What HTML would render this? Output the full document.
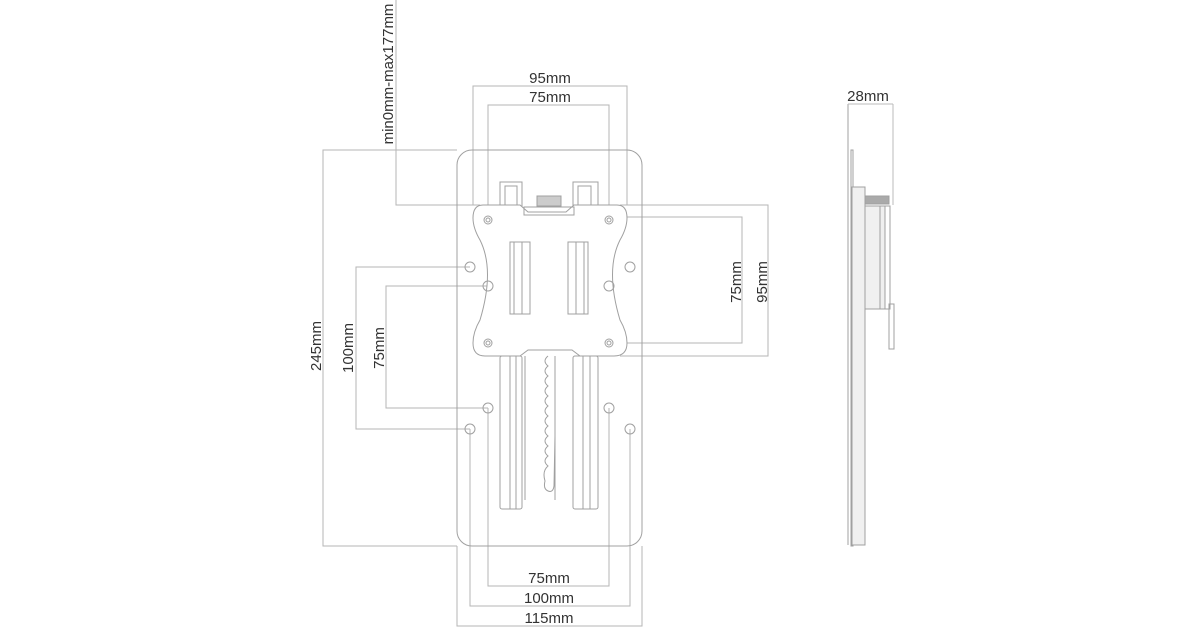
<!DOCTYPE html>
<html><head><meta charset="utf-8"><style>
html,body{margin:0;padding:0;background:#fff;}
svg{display:block;}
text{font-family:"Liberation Sans","DejaVu Sans",sans-serif;font-size:15px;fill:#333;}
</style></head><body>
<svg width="1200" height="630" viewBox="0 0 1200 630" xmlns="http://www.w3.org/2000/svg">
<g fill="none" stroke="#b5b5b5" stroke-width="1">
<polyline points="473,205 473,86 627,86 627,205"/>
<polyline points="488,217 488,105 609,105 609,217"/>
<polyline points="457,150 323,150 323,546 457,546"/>
<polyline points="396,0 396,205 480,205"/>
<polyline points="470,267 356,267 356,429 470,429"/>
<polyline points="488,286 386,286 386,408 488,408"/>
<polyline points="620,205 768,205 768,356 620,356"/>
<polyline points="609,217 742,217 742,343 609,343"/>
<polyline points="488,408 488,586 609,586 609,408"/>
<polyline points="470,429 470,606 630,606 630,429"/>
<polyline points="457,546 457,626 642,626 642,546"/>
</g>
<g fill="none" stroke="#a0a0a0" stroke-width="1">
<rect x="457" y="150" width="185" height="396" rx="15"/>
<rect x="500" y="182" width="22" height="24"/>
<rect x="505" y="186" width="12" height="20"/>
<rect x="573" y="182" width="25" height="24"/>
<rect x="578" y="186" width="13" height="20"/>
<rect x="500" y="356" width="22" height="153" rx="2"/>
<line x1="510" y1="356" x2="510" y2="509"/><line x1="516" y1="356" x2="516" y2="509"/>
<rect x="573" y="356" width="25" height="153" rx="2"/>
<line x1="583" y1="356" x2="583" y2="509"/><line x1="590" y1="356" x2="590" y2="509"/>
<line x1="525" y1="356" x2="525" y2="500"/><line x1="555" y1="356" x2="555" y2="500"/>
<path d="M548,356 q-6,5 0,10 q-6,5 0,10 q-6,5 0,10 q-6,5 0,10 q-6,5 0,10 q-6,5 0,10 q-6,5 0,10 q-6,5 0,10 q-6,5 0,10 q-6,5 0,10 q-6,5 0,10 q-6,5 -3,15 q-2,8 3,10 q5,2 6,-5 l1,-50"/>
<path fill="#fff" d="M483,205 L520,205 L528,212 L566,212 L574,205 L617,205 Q627,205 627,218 Q627,228 620,240 Q605,270 620,320 Q627,332 627,343 Q627,356 614,356 L580,356 L572,350 L528,350 L520,356 L485,356 Q473,356 473,343 Q473,332 480,320 Q495,270 480,240 Q473,228 473,218 Q473,205 483,205 Z"/>
<rect x="524" y="207" width="50" height="8"/>
<rect x="537" y="196" width="24" height="10" fill="#ccc"/>
<rect x="510" y="242" width="20" height="72"/>
<rect x="514" y="242" width="8" height="72"/>
<rect x="568" y="242" width="20" height="72"/>
<rect x="576" y="242" width="8" height="72"/>
<circle cx="488" cy="220" r="4"/><circle cx="488" cy="220" r="2"/>
<circle cx="609" cy="220" r="4"/><circle cx="609" cy="220" r="2"/>
<circle cx="488" cy="343" r="4"/><circle cx="488" cy="343" r="2"/>
<circle cx="609" cy="343" r="4"/><circle cx="609" cy="343" r="2"/>
<circle cx="470" cy="267" r="5"/><circle cx="630" cy="267" r="5"/>
<circle cx="488" cy="286" r="5"/><circle cx="609" cy="286" r="5"/>
<circle cx="488" cy="408" r="5"/><circle cx="609" cy="408" r="5"/>
<circle cx="470" cy="429" r="5"/><circle cx="630" cy="429" r="5"/>
<polyline points="848,104 848,545"/>
<line x1="848" y1="104" x2="893" y2="104" stroke="#bbb"/>
<line x1="893" y1="104" x2="893" y2="205" stroke="#bbb"/>
<rect x="851" y="150" width="2" height="396"/>
<rect x="852" y="187" width="13" height="358" fill="#f0f0f0"/>
<rect x="865" y="196" width="24" height="8" fill="#aaa"/>
<rect x="865" y="206" width="20" height="103" fill="#f0f0f0"/>
<rect x="880" y="206" width="10" height="103"/>
<rect x="889" y="304" width="5" height="45"/>
</g>
<text x="550" y="83" text-anchor="middle">95mm</text>
<text x="550" y="102" text-anchor="middle">75mm</text>
<text x="549" y="583" text-anchor="middle">75mm</text>
<text x="549" y="603" text-anchor="middle">100mm</text>
<text x="549" y="623" text-anchor="middle">115mm</text>
<text x="868" y="101" text-anchor="middle">28mm</text>
<text transform="translate(321,346) rotate(-90)" text-anchor="middle">245mm</text>
<text transform="translate(353,348) rotate(-90)" text-anchor="middle">100mm</text>
<text transform="translate(384,348) rotate(-90)" text-anchor="middle">75mm</text>
<text transform="translate(393,74) rotate(-90)" text-anchor="middle">min0mm-max177mm</text>
<text transform="translate(741,282) rotate(-90)" text-anchor="middle">75mm</text>
<text transform="translate(767,282) rotate(-90)" text-anchor="middle">95mm</text>
</svg>
</body></html>
